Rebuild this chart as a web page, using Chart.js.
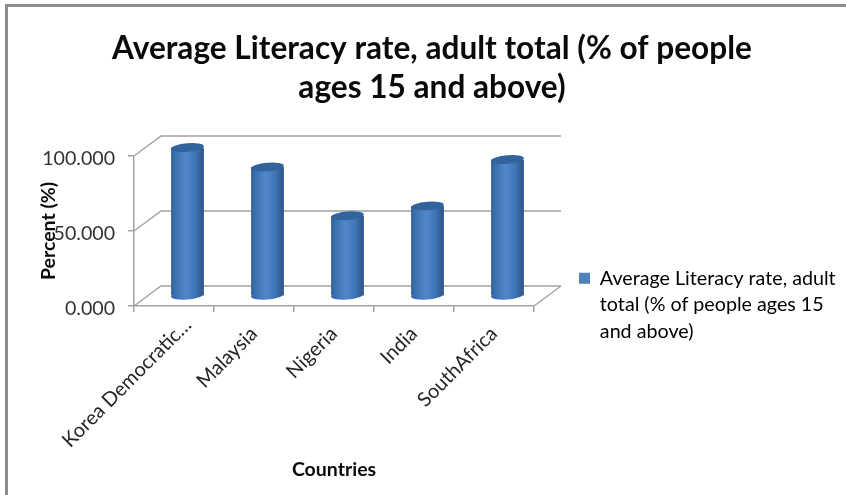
<!DOCTYPE html>
<html>
<head>
<meta charset="utf-8">
<style>
html,body{margin:0;padding:0;background:#fff;overflow:hidden}
#frame{position:absolute;left:5px;top:4px;right:0;bottom:0;border-left:3px solid #8c8c8c;border-top:3px solid #8c8c8c}
canvas{position:absolute;left:0;top:0}
</style>
<script src="https://cdn.jsdelivr.net/npm/chart.js@4/dist/chart.umd.min.js"></script>
</head>
<body>
<div id="frame"></div>
<canvas id="c" width="846" height="495"></canvas>
<script>
const categories = ['Korea Democratic…', 'Malaysia', 'Nigeria', 'India', 'SouthAfrica'];
const literacy = [99, 86, 53.5, 60, 91];
const seriesName = 'Average Literacy rate, adult total (% of people ages 15 and above)';
const legendLines = ['Average Literacy rate, adult', 'total (% of people ages 15', 'and above)'];
const titleLines = ['Average Literacy rate, adult total (% of people', 'ages 15 and above)'];
const yTicks = [0, 50, 100];

const FONT = 'Lato, Carlito, Calibri, sans-serif';
const GRID = '#a3a3a3';
const DEPTH_X = 27, DEPTH_Y = 20;
const CAP_RY = 4.2, TILT = -0.09;
const BAR_SHARE = 0.41;

function barGradient(ctx, x0, x1) {
  const g = ctx.createLinearGradient(x0, 0, x1, 0);
  g.addColorStop(0, '#2f5f98');
  g.addColorStop(0.12, '#3a70ae');
  g.addColorStop(0.45, '#5088ca');
  g.addColorStop(0.75, '#3f74b4');
  g.addColorStop(1, '#2a5488');
  return g;
}

const wallPlugin = {
  id: 'wall',
  afterLayout(chart) {
    // title centred over the whole picture, legend placed right of the plot
    const t = chart.titleBlock;
    t.left = 18; t.right = 846;
    const l = chart.legend;
    l.left = 579; l.right = 846; l.top = 268.5; l.bottom = 360;
    // the long truncated label sits further along its own direction
    const items = chart.scales.x.getLabelItems();
    if (items[0]) {
      items[0].options.translation[0] += 14;
      items[0].options.translation[1] -= 9;
    }
  },
  beforeDatasetsDraw(chart) {
    const { ctx, scales: { x, y } } = chart;
    ctx.save();
    ctx.strokeStyle = GRID;
    ctx.lineWidth = 1.5;
    yTicks.forEach(v => {
      const py = y.getPixelForValue(v);
      ctx.beginPath();
      ctx.moveTo(x.left, py);
      ctx.lineTo(x.left + DEPTH_X, py - DEPTH_Y);
      ctx.lineTo(x.right + DEPTH_X, py - DEPTH_Y);
      ctx.stroke();
    });
    const p0 = y.getPixelForValue(0);
    ctx.beginPath();
    ctx.moveTo(x.right, p0);
    ctx.lineTo(x.right + DEPTH_X, p0 - DEPTH_Y);
    ctx.stroke();
    ctx.restore();
  },
  beforeDatasetDraw(chart) {
    const { ctx } = chart;
    ctx.save();
    ctx.translate(DEPTH_X / 2, -DEPTH_Y / 2);
    // the cylinder's base ellipse
    chart.getDatasetMeta(0).data.forEach(bar => {
      const r = bar.width / 2;
      ctx.fillStyle = barGradient(ctx, bar.x - r, bar.x + r);
      ctx.beginPath();
      ctx.ellipse(bar.x, bar.base, r, CAP_RY, TILT, 0, Math.PI * 2);
      ctx.fill();
    });
  },
  afterDatasetDraw(chart) {
    const { ctx } = chart;
    // top ellipse of the cylinder
    chart.getDatasetMeta(0).data.forEach(bar => {
      const r = bar.width / 2;
      ctx.fillStyle = '#33639c';
      ctx.beginPath();
      ctx.ellipse(bar.x, bar.y, r, CAP_RY, TILT, 0, Math.PI * 2);
      ctx.fill();
    });
    ctx.restore();
  }
};

new Chart(document.getElementById('c'), {
  type: 'bar',
  data: {
    labels: categories,
    datasets: [{
      label: seriesName,
      data: literacy,
      clip: false,
      barPercentage: BAR_SHARE,
      categoryPercentage: 1,
      borderWidth: 0,
      backgroundColor: c => {
        const sx = c.chart.scales.x;
        if (!sx || c.dataIndex === undefined) return '#4f81bd';
        const cx = sx.getPixelForValue(c.dataIndex);
        const half = (sx.width / categories.length) * BAR_SHARE / 2;
        return barGradient(c.chart.ctx, cx - half, cx + half);
      }
    }]
  },
  options: {
    responsive: false,
    animation: false,
    events: [],
    layout: { padding: { left: 39, right: 312, top: 0, bottom: 15 } },
    plugins: {
      tooltip: { enabled: false },
      title: {
        display: true,
        text: titleLines,
        color: '#0a0a0a',
        font: { family: FONT, size: 31.6, weight: 'bold', lineHeight: 39 / 31.6 },
        padding: { top: 29, bottom: 49 }
      },
      legend: {
        display: true,
        position: 'chartArea',
        align: 'start',
        labels: {
          padding: 0,
          boxWidth: 11,
          boxHeight: 11,
          color: '#404040',
          font: { family: FONT, size: 19.7, lineHeight: 26.5 / 19.7 },
          generateLabels: () => [{
            text: legendLines,
            fillStyle: '#4f81bd',
            strokeStyle: '#4f81bd',
            lineWidth: 0,
            datasetIndex: 0
          }]
        }
      }
    },
    scales: {
      x: {
        afterFit: s => { s.height = 174; },
        grid: { drawOnChartArea: false, color: GRID, tickColor: GRID, tickLength: 6, lineWidth: 1.5, offset: true },
        border: { color: GRID, width: 1.5 },
        ticks: {
          autoSkip: false,
          minRotation: 45,
          maxRotation: 45,
          padding: 10,
          color: '#262626',
          font: { family: FONT, size: 20 }
        },
        title: {
          display: true,
          text: 'Countries',
          color: '#0a0a0a',
          font: { family: FONT, size: 19.5, weight: 'bold', lineHeight: 20 / 19.5 },
          padding: 0
        }
      },
      y: {
        min: 0,
        max: 100,
        afterFit: s => { s.width = 95; },
        afterBuildTicks: s => { s.ticks = yTicks.map(v => ({ value: v })); },
        grid: { drawOnChartArea: false, color: GRID, tickColor: GRID, tickLength: 6, lineWidth: 1.5 },
        border: { color: GRID, width: 1.5 },
        ticks: {
          padding: 13,
          labelOffset: 3,
          color: '#333333',
          font: { family: FONT, size: 19.6 },
          callback: v => v.toFixed(3)
        },
        title: {
          display: true,
          text: 'Percent (%)',
          color: '#0a0a0a',
          font: { family: FONT, size: 19.5, weight: 'bold', lineHeight: 20 / 19.5 },
          padding: 0
        }
      }
    }
  },
  plugins: [wallPlugin]
});
</script>
</body>
</html>
